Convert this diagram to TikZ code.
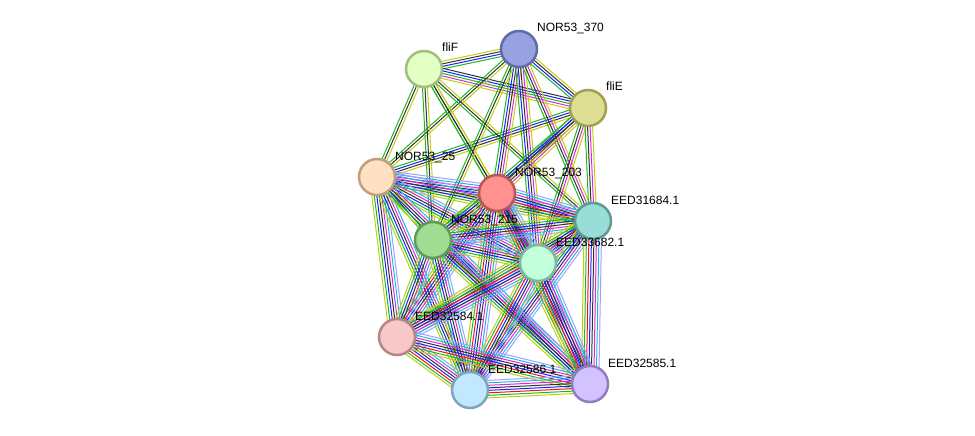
\documentclass[tikz,border=0pt]{standalone}
\usepackage{fontspec}
\setmainfont{Liberation Sans}
\usetikzlibrary{calc,backgrounds}
\definecolor{eg}{RGB}{30,185,30}
\definecolor{er}{RGB}{240,20,20}
\definecolor{eb}{RGB}{30,30,250}
\definecolor{ek}{RGB}{50,50,50}
\definecolor{em}{RGB}{220,40,220}
\definecolor{ec}{RGB}{40,180,220}
\definecolor{ey}{RGB}{190,208,20}
\definecolor{eh}{RGB}{160,160,255}
\def\ALL{ey,eg,er,eb,ek,em,ec,eh}
\def\NORED{ey,eg,eb,ek,em,ec,eh}
\def\TXT{eg,ek,ey}
\newcommand{\stredge}[3]{%
  \edef\strlist{#3}%
  \foreach \ecol [count=\eidx] in \strlist {\xdef\strN{\eidx}}%
  \foreach \ecol [count=\eidx] in \strlist {%
    \pgfmathsetmacro{\stroff}{(\eidx-(\strN+1)/2)*2.5}%
    \draw[ln,\ecol] ($(#1.center)!\stroff pt!90:(#2.center)$) -- ($(#2.center)!\stroff pt!-90:(#1.center)$);
  }}
\tikzset{
  prot/.style={circle, minimum size=36pt, inner sep=0pt, line width=2.5pt},
  lab/.style={anchor=base west, inner sep=0pt, font=\fontsize{12}{13}\selectfont},
  ln/.style={line width=1pt}
}
\begin{document}
\begin{tikzpicture}[x=1pt,y=-1pt]
\useasboundingbox (0,0) rectangle (975,436);
\node[prot, fill={rgb,255:red,226;green,255;blue,196}, draw={rgb,255:red,160;green,190;blue,125}] (F) at (424,69) {};
\node[prot, fill={rgb,255:red,152;green,162;blue,224}, draw={rgb,255:red,95;green,108;blue,170}] (R) at (519,49) {};
\node[prot, fill={rgb,255:red,222;green,222;blue,148}, draw={rgb,255:red,160;green,160;blue,85}] (E) at (588,108) {};
\node[prot, fill={rgb,255:red,255;green,224;blue,194}, draw={rgb,255:red,190;green,160;blue,125}] (A) at (377,177) {};
\node[prot, fill={rgb,255:red,255;green,145;blue,145}, draw={rgb,255:red,190;green,85;blue,85}] (P) at (497,193) {};
\node[prot, fill={rgb,255:red,152;green,222;blue,214}, draw={rgb,255:red,95;green,155;blue,148}] (C) at (593,221) {};
\node[prot, fill={rgb,255:red,160;green,220;blue,145}, draw={rgb,255:red,95;green,155;blue,90}] (B) at (433,240) {};
\node[prot, fill={rgb,255:red,196;green,255;blue,220}, draw={rgb,255:red,125;green,185;blue,155}] (M) at (538,263) {};
\node[prot, fill={rgb,255:red,248;green,200;blue,200}, draw={rgb,255:red,180;green,135;blue,135}] (K) at (397,337) {};
\node[prot, fill={rgb,255:red,194;green,232;blue,255}, draw={rgb,255:red,125;green,165;blue,190}] (L) at (470,390) {};
\node[prot, fill={rgb,255:red,210;green,194;blue,255}, draw={rgb,255:red,145;green,125;blue,190}] (N) at (590,384) {};
\node[lab] (lF) at ($(F.center)+(18,-17)$) {fliF};
\node[lab] (lR) at ($(R.center)+(18,-17)$) {NOR53\_370};
\node[lab] (lE) at ($(E.center)+(18,-17)$) {fliE};
\node[lab] (lA) at ($(A.center)+(18,-17)$) {NOR53\_25};
\node[lab] (lP) at ($(P.center)+(18,-17)$) {NOR53\_203};
\node[lab] (lC) at ($(C.center)+(18,-17)$) {EED31684.1};
\node[lab] (lB) at ($(B.center)+(18,-17)$) {NOR53\_215};
\node[lab] (lM) at ($(M.center)+(18,-17)$) {EED33682.1};
\node[lab] (lK) at ($(K.center)+(18,-17)$) {EED32584.1};
\node[lab] (lL) at ($(L.center)+(18,-17)$) {EED32586.1};
\node[lab] (lN) at ($(N.center)+(18,-17)$) {EED32585.1};
\begin{pgfonlayer}{background}
\stredge{F}{R}{eg,eb,ek,ey}
\stredge{F}{E}{ey,em,eg,eb,ek}
\stredge{R}{E}{eg,eb,ek,ey}
\stredge{F}{A}{\TXT}
\stredge{R}{A}{\TXT}
\stredge{E}{A}{eg,eb,ek,ey}
\stredge{F}{B}{\TXT}
\stredge{F}{P}{\TXT}
\stredge{F}{M}{\TXT}
\stredge{F}{C}{\TXT}
\stredge{R}{P}{eg,eb,ek,em,ey}
\stredge{R}{B}{\TXT}
\stredge{R}{M}{eg,eb,ek,em,ey}
\stredge{R}{C}{eg,ek,em,ey}
\stredge{E}{P}{eg,eb,ek,em,ey}
\stredge{E}{B}{eg,eb,ek,ey}
\stredge{E}{M}{eg,ek,em,ey}
\stredge{E}{C}{eg,ek,em,ey}
\stredge{A}{B}{eg,ek,ey}
\stredge{A}{P}{\NORED}
\stredge{A}{C}{\NORED}
\stredge{A}{M}{\NORED}
\stredge{A}{K}{\NORED}
\stredge{A}{L}{ey,eg,eb,ek,em,ec}
\stredge{A}{N}{ey,eg,eb,ek,em,ec}
\stredge{P}{C}{\ALL}
\stredge{P}{B}{\NORED}
\stredge{P}{M}{\ALL}
\stredge{P}{K}{\ALL}
\stredge{P}{L}{\ALL}
\stredge{P}{N}{\ALL}
\stredge{C}{B}{\NORED}
\stredge{C}{M}{\ALL}
\stredge{C}{K}{\NORED}
\stredge{C}{L}{\NORED}
\stredge{C}{N}{\ALL}
\stredge{B}{M}{\NORED}
\stredge{B}{K}{\NORED}
\stredge{B}{L}{\NORED}
\stredge{B}{N}{\NORED}
\stredge{M}{K}{\ALL}
\stredge{M}{L}{\ALL}
\stredge{M}{N}{\ALL}
\stredge{K}{L}{\ALL}
\stredge{K}{N}{\ALL}
\stredge{L}{N}{\ALL}
\end{pgfonlayer}
\end{tikzpicture}
\end{document}
